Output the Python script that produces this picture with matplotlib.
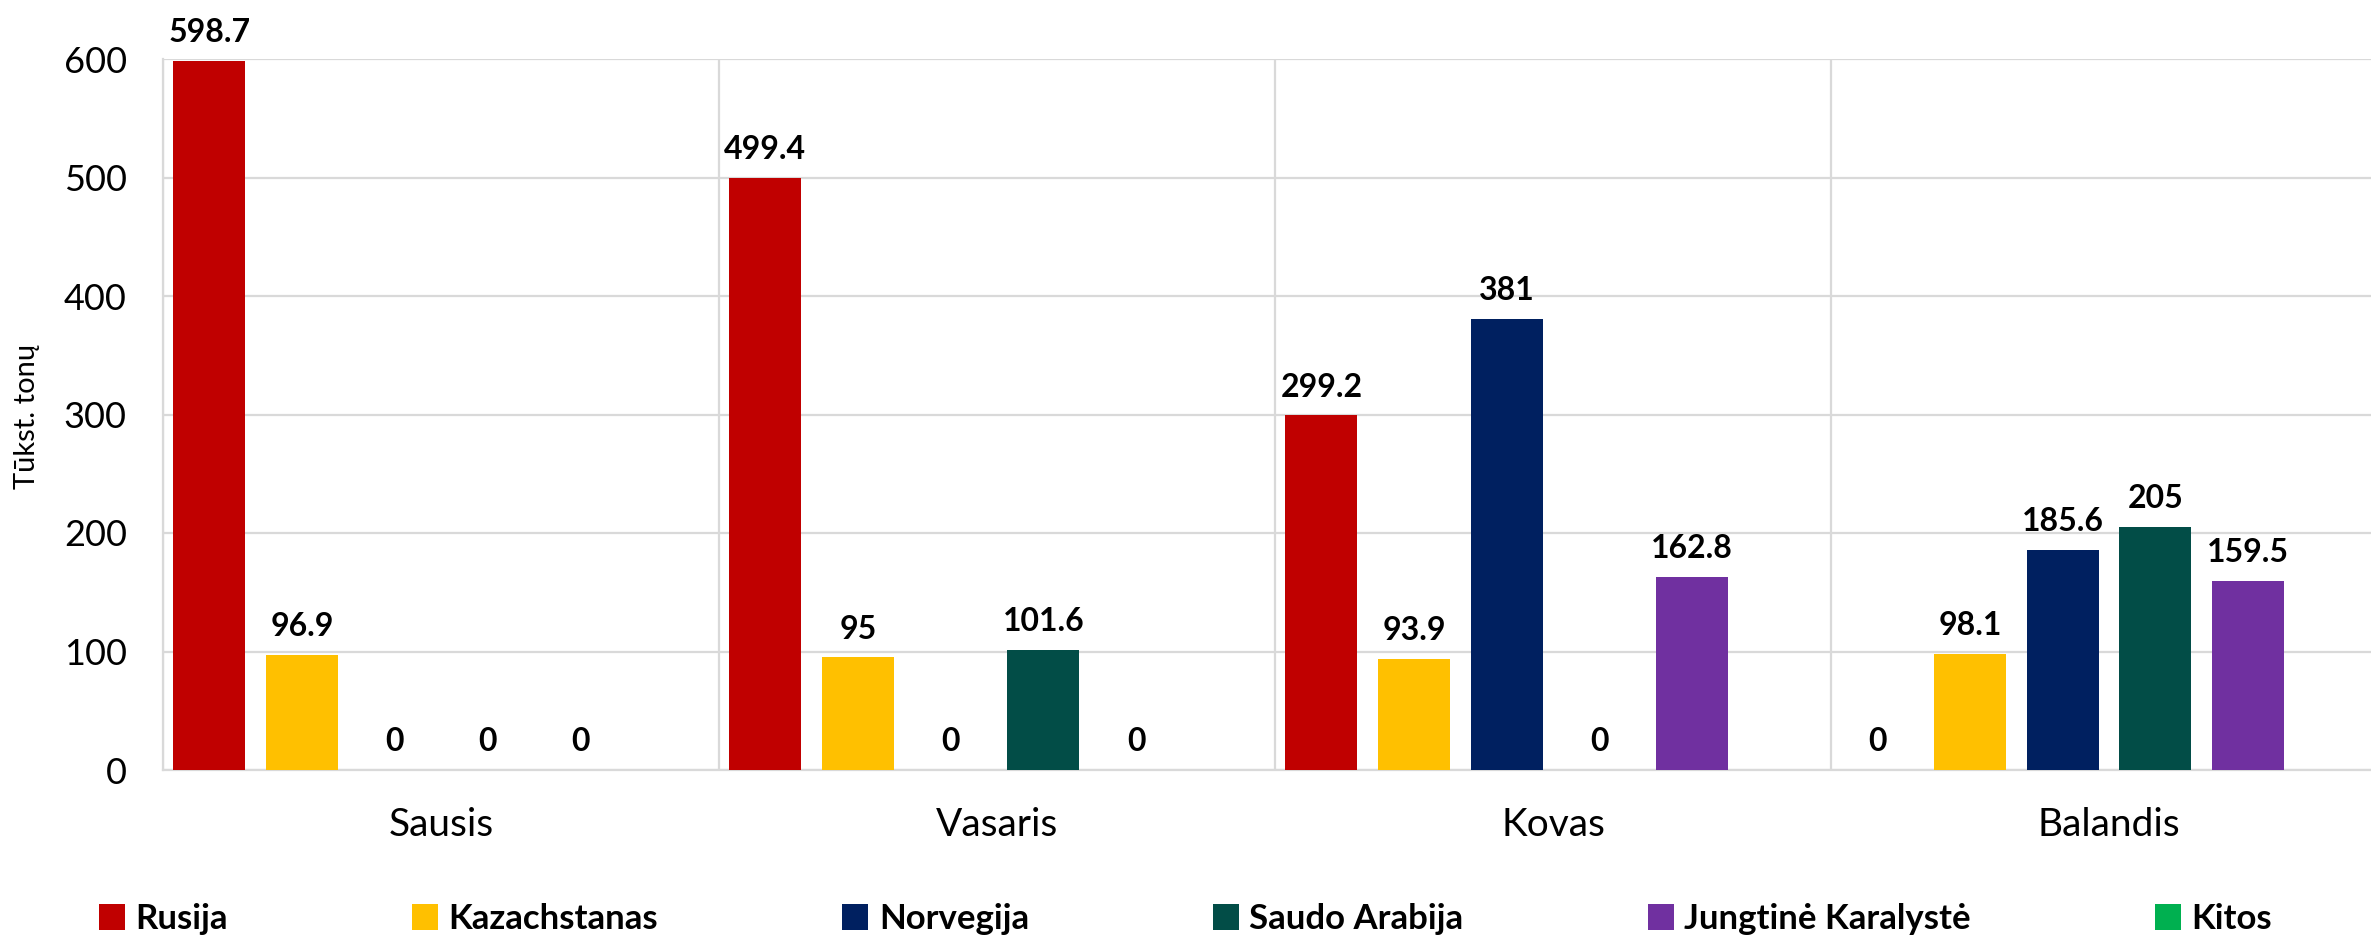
import matplotlib
matplotlib.use("Agg")
import matplotlib.pyplot as plt
from matplotlib.patches import Patch
import numpy as np

plt.rcParams['font.family'] = ['Lato', 'DejaVu Sans']

months = ['Sausis', 'Vasaris', 'Kovas', 'Balandis']
series_names = ['Rusija', 'Kazachstanas', 'Norvegija', 'Saudo Arabija',
                'Jungtinė Karalystė', 'Kitos']
rusija = [598.7, 499.4, 299.2, 0]
kazachstanas = [96.9, 95, 93.9, 98.1]
norvegija = [0, 0, 381, 185.6]
saudo_arabija = [0, 101.6, 0, 205]
jungtine_karalyste = [0, 0, 162.8, 159.5]
kitos = [None, None, None, None]
colors = ['#C00000', '#FFC000', '#002060', '#024D47', '#7030A0', '#00B050']
yticks = [0, 100, 200, 300, 400, 500, 600]

all_series = [rusija, kazachstanas, norvegija, saudo_arabija, jungtine_karalyste, kitos]

fig = plt.figure(figsize=(23.71, 9.40), dpi=100)
ax = fig.add_axes([163 / 2371, 1 - 770 / 940, (2387 - 163) / 2371, (770 - 59) / 940])

n = len(all_series)
slot = 1.0 / n
bar_w = 0.13
x = np.arange(len(months))

for j, (vals, col) in enumerate(zip(all_series, colors)):
    pos = x - 0.5 + (j + 0.5) * slot
    for xi, v in zip(pos, vals):
        if v is None:
            continue
        ax.bar(xi, v, width=bar_w, color=col, zorder=3)
        ax.annotate(f'{v:g}', (xi, v), xytext=(0, 10), textcoords='offset points',
                    ha='center', va='bottom', fontsize=23, fontweight='bold',
                    color='black', annotation_clip=False)

ax.set_xlim(-0.5, len(months) - 0.5)
ax.set_ylim(0, 600)
ax.set_yticks(yticks)
ax.set_xticks(x)
ax.set_xticklabels(months)
ax.set_xticks(np.arange(-0.5, len(months), 1.0), minor=True)

ax.tick_params(axis='y', length=0, pad=26, labelsize=26)
ax.tick_params(axis='x', which='both', length=0, pad=27, labelsize=28)

ax.grid(axis='y', color='#D9D9D9', linewidth=1.6, zorder=0)
ax.grid(axis='x', which='minor', color='#D9D9D9', linewidth=1.6, zorder=0)
ax.grid(axis='x', which='major', visible=False)
for side in ['top', 'right']:
    ax.spines[side].set_visible(False)
for side in ['left', 'bottom']:
    ax.spines[side].set_color('#D9D9D9')
    ax.spines[side].set_linewidth(1.6)

fig.text(27 / 2371, 1 - 416 / 940, 'Tūkst. tonų', rotation=90, ha='center', va='center',
         fontsize=21)

handles = [Patch(facecolor=c, edgecolor='none') for c in colors]
leg = fig.legend(handles, series_names, loc='center', bbox_to_anchor=(0.5, 1 - 919 / 940),
                 ncol=6, frameon=False, handlelength=0.75, handleheight=0.75,
                 handletextpad=0.3, columnspacing=5.3,
                 prop={'size': 25, 'weight': 'bold'})

fig.savefig('out.png', dpi=100)
